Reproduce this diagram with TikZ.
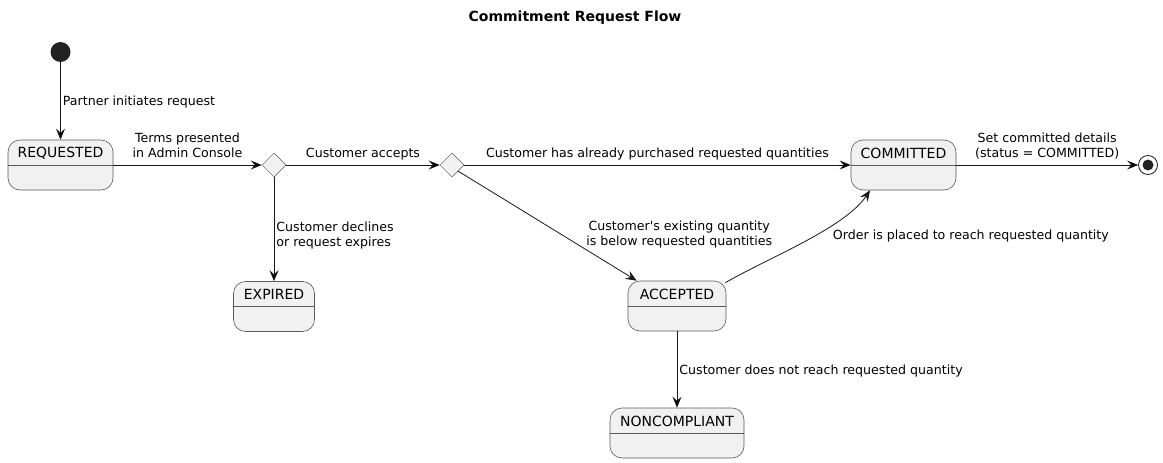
\documentclass[tikz,border=0pt]{standalone}
\usepackage{fontspec}
\setmainfont{DejaVu Sans}
\newfontfamily\plainfont{DejaVu Sans}
\usetikzlibrary{arrows.meta,shapes.geometric}
\definecolor{statefill}{HTML}{F1F1F1}
\definecolor{lineclr}{HTML}{181818}
\definecolor{boxline}{HTML}{5A5A5A}
\definecolor{dotclr}{HTML}{222222}

\tikzset{
  state/.style={draw=boxline, fill=statefill, rounded corners=12pt, line width=0.6pt,
    minimum height=50pt, inner sep=0pt},
  choice/.style={diamond, draw=boxline, fill=statefill, line width=0.5pt,
    minimum size=24pt, inner sep=0pt},
  sname/.style={font=\fontsize{14}{16}\selectfont, inner sep=0pt},
  sepline/.style={draw=boxline, line width=0.6pt},
  lbl/.style={font=\fontsize{12.6}{15}\selectfont, inner sep=2pt, text depth=0pt},
  trans/.style={draw=lineclr, line width=0.8pt, -{Stealth[length=11pt,width=9pt,inset=4pt]}},
}

\begin{document}
\begin{tikzpicture}[x=1pt,y=-1pt]
\useasboundingbox (0,0) rectangle (1163,463);

\node(title) at (575,18)[font=\bfseries\fontsize{14}{16}\selectfont]{Commitment Request Flow};

\node(start) at (60.5,52)[shape=circle,fill=dotclr,minimum size=20pt,inner sep=0pt]{};
\node(end) at (1148,165)[shape=circle,draw=lineclr,line width=0.8pt,minimum size=19pt,inner sep=0pt,
  path picture={\fill[dotclr] (path picture bounding box.center) circle (5.5pt);}]{};

% states
\node(req) at (60.5,165)[state,minimum width=105pt]{};
\node(exp) at (274,306.5)[state,minimum width=81pt]{};
\node(acc) at (677,306)[state,minimum width=98pt]{};
\node(com) at (903.5,165)[state,minimum width=105pt]{};
\node(nonc) at (677,433)[state,minimum width=134pt]{};

\node(req-name) at ([yshift=12pt]req.center)[sname]{REQUESTED};
\node(exp-name) at ([yshift=12pt]exp.center)[sname]{EXPIRED};
\node(acc-name) at ([yshift=12pt]acc.center)[sname]{ACCEPTED};
\node(com-name) at ([yshift=12pt]com.center)[sname]{COMMITTED};
\node(nonc-name) at ([yshift=12pt]nonc.center)[sname]{NONCOMPLIANT};

\draw[sepline] (req.west) -- (req.east);
\draw[sepline] (exp.west) -- (exp.east);
\draw[sepline] (acc.west) -- (acc.east);
\draw[sepline] (com.west) -- (com.east);
\draw[sepline] (nonc.west) -- (nonc.east);

% choices
\node(d1) at (274,165)[choice]{};
\node(d2) at (452,165)[choice]{};

\path [trans]
  (start)  edge  node [lbl, midway, anchor=west]  {Partner initiates request}  (req)
  (req)    edge  node [lbl, midway, above=5pt, align=center]  {Terms presented\\in Admin Console}  (d1.west)
  (d1)     edge  node [lbl, midway, above=5pt]  {Customer accepts}  (d2.west)
  (d1)     edge  node [lbl, pos=0.55, anchor=west, align=left]  {Customer declines\\or request expires}  (exp)
  (d2)     edge  node [lbl, midway, above=5pt]  {Customer has already purchased requested quantities}  (com)
  (acc)    edge  node [lbl, midway, anchor=west]  {Customer does not reach requested quantity}  (nonc)
  (com)    edge  node [lbl, midway, above=5pt, align=center]  {Set committed details\\(status = COMMITTED)}  (end);

\draw [trans] (d2.south east) -- ([xshift=9pt]acc.north west)
  node [lbl, pos=0.57, anchor=west, xshift=24pt, align=center]
  {Customer{\plainfont'}s existing quantity\\is below requested quantities};

\draw [trans] ([xshift=-1pt,yshift=-2pt]acc.north east) .. controls (768,258) and (845,228) .. ([xshift=-33.5pt]com.south)
  node [lbl, pos=0.6, anchor=west, xshift=10pt, yshift=-3pt] {Order is placed to reach requested quantity};

\end{tikzpicture}
\end{document}
